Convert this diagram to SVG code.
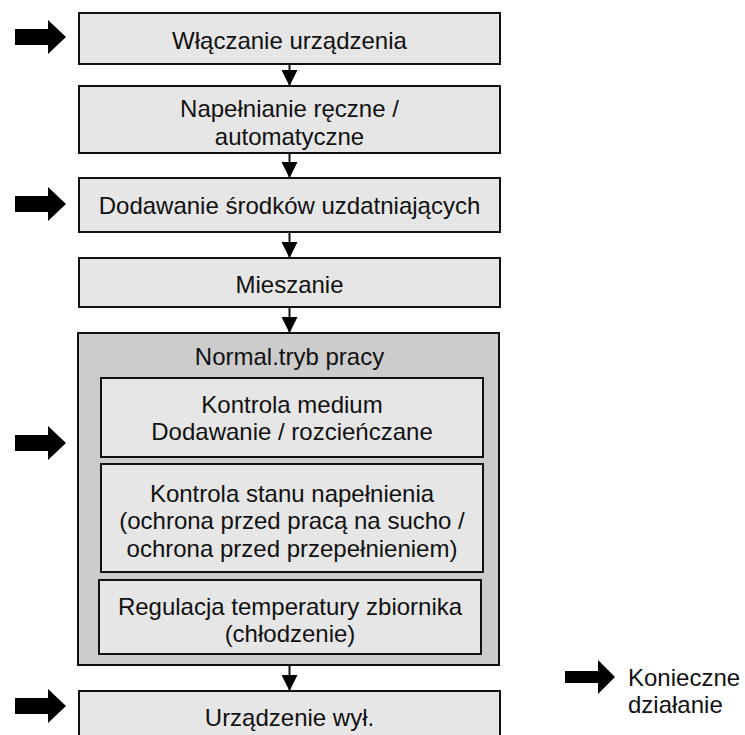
<svg xmlns="http://www.w3.org/2000/svg" width="745" height="735" viewBox="0 0 745 735">
  <defs>
    <style>
      .box { fill: #e6e6e6; stroke: #111; stroke-width: 2; }
      .outer { fill: #cccccc; stroke: #111; stroke-width: 2; }
      .t { font-family: "Liberation Sans", Arial, sans-serif; font-size: 24px; fill: #111; text-anchor: middle; }
      .lt { font-family: "Liberation Sans", Arial, sans-serif; font-size: 24px; fill: #111; }
      .conn { stroke: #111; stroke-width: 2; fill: none; }
      .big { fill: #000; }
    </style>
    <marker id="ah" markerWidth="16" markerHeight="16" refX="16" refY="8" orient="auto" markerUnits="userSpaceOnUse">
      <path d="M0,0 L16,8 L0,16 Z" fill="#000"/>
    </marker>
  </defs>
  <rect width="745" height="735" fill="#ffffff"/>

  <g id="connectors">
    <line class="conn" x1="289.5" y1="64" x2="289.5" y2="86" marker-end="url(#ah)"/>
    <line class="conn" x1="289.5" y1="153" x2="289.5" y2="178" marker-end="url(#ah)"/>
    <line class="conn" x1="289.5" y1="232" x2="289.5" y2="258" marker-end="url(#ah)"/>
    <line class="conn" x1="289.5" y1="307" x2="289.5" y2="333" marker-end="url(#ah)"/>
    <line class="conn" x1="289.5" y1="665" x2="289.5" y2="691" marker-end="url(#ah)"/>
  </g>

  <g id="action-arrows">
    <polygon class="big" points="15,29 48,29 48,20 66,37 48,54 48,45 15,45"/>
    <polygon class="big" points="15,196 48,196 48,187 66,204 48,221 48,212 15,212"/>
    <polygon class="big" points="15,435 48,435 48,426 66,443 48,460 48,451 15,451"/>
    <polygon class="big" points="15,698 48,698 48,689 66,706 48,723 48,714 15,714"/>
  </g>

  <g id="n1">
    <rect class="box" x="79" y="13" width="421" height="51"/>
    <text class="t" x="289.5" y="49">Włączanie urządzenia</text>
  </g>
  <g id="n2">
    <rect class="box" x="79" y="86" width="421" height="67"/>
    <text class="t" x="289.5" y="117">Napełnianie ręczne /</text>
    <text class="t" x="289.5" y="145">automatyczne</text>
  </g>
  <g id="n3">
    <rect class="box" x="79" y="178" width="421" height="54"/>
    <text class="t" x="289.5" y="214">Dodawanie środków uzdatniających</text>
  </g>
  <g id="n4">
    <rect class="box" x="79" y="258" width="421" height="49"/>
    <text class="t" x="289.5" y="293">Mieszanie</text>
  </g>
  <g id="n5">
    <rect class="outer" x="78" y="333" width="421" height="332"/>
    <text class="t" x="289.5" y="365">Normal.tryb pracy</text>
  </g>
  <g id="n5a">
    <rect class="box" x="101" y="378" width="382" height="79"/>
    <text class="t" x="292" y="413">Kontrola medium</text>
    <text class="t" x="292" y="440">Dodawanie / rozcieńczane</text>
  </g>
  <g id="n5b">
    <rect class="box" x="101" y="464" width="382" height="108"/>
    <text class="t" x="292" y="502">Kontrola stanu napełnienia</text>
    <text class="t" x="292" y="529">(ochrona przed pracą na sucho /</text>
    <text class="t" x="292" y="557">ochrona przed przepełnieniem)</text>
  </g>
  <g id="n5c">
    <rect class="box" x="99" y="580" width="382" height="74"/>
    <text class="t" x="290" y="615">Regulacja temperatury zbiornika</text>
    <text class="t" x="290" y="642">(chłodzenie)</text>
  </g>
  <g id="n6">
    <rect class="box" x="79" y="691" width="421" height="60"/>
    <text class="t" x="289.5" y="726">Urządzenie wył.</text>
  </g>

  <g id="legend">
    <polygon class="big" points="565,671 598,671 598,660 615,677 598,694 598,683 565,683"/>
    <text class="lt" x="628" y="686">Konieczne</text>
    <text class="lt" x="628" y="713">działanie</text>
  </g>
</svg>
